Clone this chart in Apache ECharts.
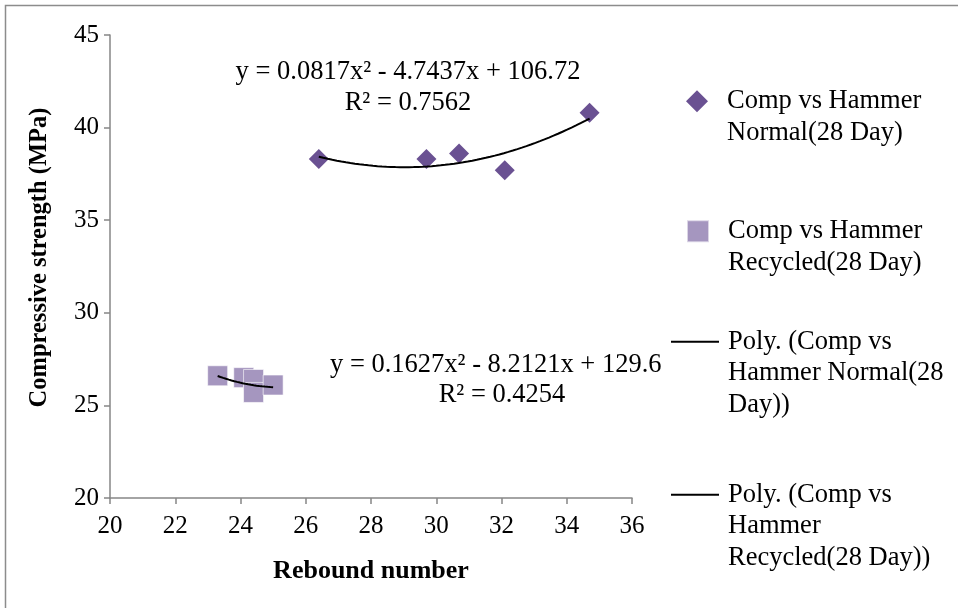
<!DOCTYPE html>
<html>
<head>
<meta charset="utf-8">
<script src="https://cdn.jsdelivr.net/npm/echarts@6/dist/echarts.min.js"></script>
<style>
  html, body { margin: 0; padding: 0; background: #ffffff; }
  #chart { width: 958px; height: 608px; }
</style>
</head>
<body>
<div id="chart"></div>
<script>
// Rebound hammer readings vs. 28-day compressive strength
const normalRebound = [26.4, 29.7, 30.7, 32.1, 34.7];
const normalStrength = [38.3, 38.3, 38.6, 37.7, 40.8];
const recycledRebound = [23.3, 24.1, 24.4, 24.4, 25.0];
const recycledStrength = [26.6, 26.5, 26.4, 25.7, 26.1];

// Polynomial trendline coefficients [a, b, c] for y = a x^2 + b x + c
const normalFit = [0.0817, -4.7437, 106.72];
const recycledFit = [0.1627, -8.2121, 129.6];

const xTicks = [20, 22, 24, 26, 28, 30, 32, 34, 36];
const yTicks = [20, 25, 30, 35, 40, 45];

const seriesNames = [
  'Comp vs Hammer Normal(28 Day)',
  'Comp vs Hammer Recycled(28 Day)',
  'Poly. (Comp vs Hammer Normal(28 Day))',
  'Poly. (Comp vs Hammer Recycled(28 Day))'
];
const legendLines = [
  ['Comp vs Hammer', 'Normal(28 Day)'],
  ['Comp vs Hammer', 'Recycled(28 Day)'],
  ['Poly. (Comp vs', 'Hammer Normal(28', 'Day))'],
  ['Poly. (Comp vs', 'Hammer', 'Recycled(28 Day))']
];

const FONT = '"Liberation Serif", "Times New Roman", serif';
const AXIS_GRAY = '#868686';
const TEXT_SIZE = 26.5;

// Evaluate the fitted quadratic across the span of its own data
function trend(coef, xs) {
  const lo = Math.min(...xs), hi = Math.max(...xs);
  const pts = [];
  const n = 60;
  for (let i = 0; i <= n; i++) {
    const x = lo + (hi - lo) * i / n;
    pts.push([x, coef[0] * x * x + coef[1] * x + coef[2]]);
  }
  return pts;
}

const zip = (a, b) => a.map((v, i) => [v, b[i]]);

// Legend text: pad with blank lines above so the icon sits on the first line
function legendText(idx) {
  const lines = legendLines[idx];
  const pad = new Array(lines.length - 1).fill('');
  return pad.concat(lines).join('\n');
}

const legendTops = [54, 184, 263, 416];
const legends = seriesNames.map((name, i) => {
  const isMarker = i < 2;
  return {
    data: [name],
    orient: 'vertical',
    left: isMarker ? 686 : 670,
    top: legendTops[i],
    padding: 0,
    itemWidth: isMarker ? 22 : 48,
    itemHeight: 22,
    selectedMode: false,
    formatter: () => legendText(i),
    textStyle: {
      fontFamily: FONT, fontSize: TEXT_SIZE, color: '#000', lineHeight: 31.5,
      padding: [0, 0, 0, isMarker ? 14 : 4]
    }
  };
});

const chart = echarts.init(document.getElementById('chart'), null, { renderer: 'canvas' });

chart.setOption({
  backgroundColor: '#ffffff',
  animation: false,
  grid: { left: 110, right: 326, top: 35, bottom: 110, containLabel: false },
  legend: legends,
  xAxis: {
    type: 'value',
    min: xTicks[0],
    max: xTicks[xTicks.length - 1],
    interval: 2,
    name: 'Rebound number',
    nameLocation: 'middle',
    nameGap: 60,
    nameTextStyle: { fontFamily: FONT, fontSize: 26, fontWeight: 'bold', color: '#000' },
    axisLine: { show: true, lineStyle: { color: AXIS_GRAY, width: 1.5 } },
    axisTick: { show: true, length: 6, inside: false, lineStyle: { color: AXIS_GRAY, width: 1.5 } },
    axisLabel: { margin: 16, fontFamily: FONT, fontSize: 25, color: '#000' },
    splitLine: { show: false }
  },
  yAxis: {
    type: 'value',
    min: yTicks[0],
    max: yTicks[yTicks.length - 1],
    interval: 5,
    name: 'Compressive strength (MPa)',
    nameLocation: 'middle',
    nameGap: 58,
    nameRotate: 90,
    nameTextStyle: {
      fontFamily: FONT, fontSize: 24.5, fontWeight: 'bold', color: '#000',
      padding: [0, 0, 0, 18]
    },
    axisLine: { show: true, lineStyle: { color: AXIS_GRAY, width: 1.5 } },
    axisTick: { show: true, length: 6, inside: false, lineStyle: { color: AXIS_GRAY, width: 1.5 } },
    axisLabel: { margin: 11, fontFamily: FONT, fontSize: 25, color: '#000' },
    splitLine: { show: false }
  },
  series: [
    {
      name: seriesNames[0],
      type: 'scatter',
      symbol: 'diamond',
      symbolSize: 20,
      itemStyle: { color: '#6A5192', opacity: 1 },
      data: zip(normalRebound, normalStrength),
      z: 3
    },
    {
      name: seriesNames[1],
      type: 'scatter',
      symbol: 'rect',
      symbolSize: 20,
      itemStyle: { color: '#A596BF', opacity: 1, borderColor: 'rgba(255,255,255,0.6)', borderWidth: 1 },
      data: zip(recycledRebound, recycledStrength),
      z: 3
    },
    {
      name: seriesNames[2],
      type: 'line',
      showSymbol: false,
      symbol: 'none',
      lineStyle: { color: '#000', width: 2 },
      itemStyle: { color: 'rgba(0,0,0,0)' },
      data: trend(normalFit, normalRebound),
      z: 4
    },
    {
      name: seriesNames[3],
      type: 'line',
      showSymbol: false,
      symbol: 'none',
      lineStyle: { color: '#000', width: 2 },
      itemStyle: { color: 'rgba(0,0,0,0)' },
      data: trend(recycledFit, recycledRebound),
      z: 4
    }
  ],
  graphic: [
    {
      type: 'rect',
      silent: true,
      shape: { x: 5.5, y: 5.5, width: 1200, height: 1200 },
      style: { fill: 'none', stroke: '#8c8c8c', lineWidth: 1.5 },
      z: -10
    },
    {
      type: 'text', x: 408, y: 72,
      style: { text: 'y = 0.0817x² - 4.7437x + 106.72', font: TEXT_SIZE + 'px ' + FONT, fill: '#000', align: 'center', verticalAlign: 'middle' }
    },
    {
      type: 'text', x: 408, y: 103,
      style: { text: 'R² = 0.7562', font: TEXT_SIZE + 'px ' + FONT, fill: '#000', align: 'center', verticalAlign: 'middle' }
    },
    {
      type: 'text', x: 330, y: 365,
      style: { text: 'y = 0.1627x² - 8.2121x + 129.6', font: TEXT_SIZE + 'px ' + FONT, fill: '#000', align: 'left', verticalAlign: 'middle' }
    },
    {
      type: 'text', x: 502, y: 395,
      style: { text: 'R² = 0.4254', font: TEXT_SIZE + 'px ' + FONT, fill: '#000', align: 'center', verticalAlign: 'middle' }
    }
  ]
});
</script>
</body>
</html>
